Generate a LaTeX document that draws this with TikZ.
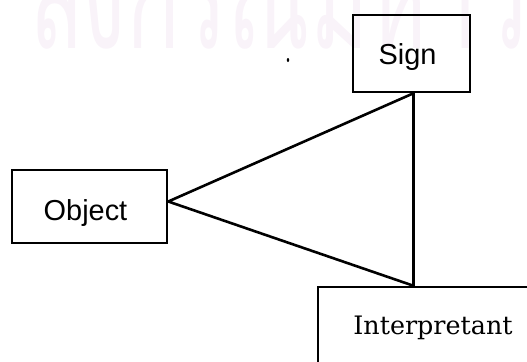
\documentclass[tikz,border=0pt]{standalone}
\usepackage{fontspec}
\setmainfont{Liberation Sans}
\newfontfamily\slabfont{DejaVu Serif}
\newfontfamily\thaifont[Script=Thai]{Loma}
\definecolor{mark}{RGB}{249,243,249}
\tikzset{
  box/.style={draw, line width=2.5bp, rectangle, inner sep=0pt},
  lbl/.style={inner sep=0pt, font=\fontsize{29}{32}\selectfont},
  tri/.style={line width=2.6bp, line join=round}
}
\begin{document}
\begin{tikzpicture}[x=1bp,y=-1bp]
\useasboundingbox (0,0) rectangle (527,361);
\clip (0,0) rectangle (527,361);
% faint background stamp
\node[anchor=base west, inner sep=0pt, text=mark, xscale=1.05, yscale=1.8,
      font=\thaifont\fontsize{85}{90}\selectfont] (stamp) at (28,48)
      {ลงกรณ์มหาวิทยาลัย};
% boxes
\node[box, minimum width=117bp, minimum height=77bp] (sign) at (411.5,53.5) {};
\node[box, minimum width=155bp, minimum height=73bp] (obj) at (89.5,206.5) {};
\node[box, minimum width=230bp, minimum height=80bp] (interp) at (433,327) {};
% labels
\node[lbl] (signtxt) at (407.5,57) {Sign};
\node[lbl] (objtxt) at (85.5,213) {Object};
\node[inner sep=0pt, font=\slabfont\fontsize{25.5}{29}\selectfont] (interptxt) at (433,328) {Interpretant};
% triangle of relations
\coordinate (sj) at ([xshift=2bp]sign.south);
\coordinate (ij) at (sj |- interp.north);
\coordinate (oj) at ([yshift=5bp]obj.east);
\draw[tri] (oj) -- (sj) -- (ij) -- cycle;
% speck
\fill (288,60) ellipse (1.2bp and 2bp);
\end{tikzpicture}
\end{document}
